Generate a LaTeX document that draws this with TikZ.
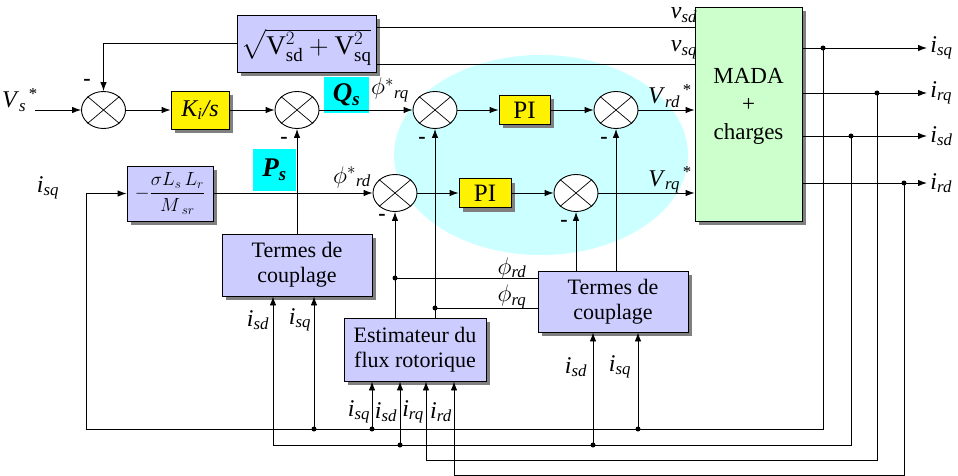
\RequirePackage{fix-cm}
\documentclass[tikz,border=0pt]{standalone}
\usepackage{amsmath}
\usepackage{fontspec}
\setmainfont{Liberation Serif}
\usetikzlibrary{shapes.geometric,arrows.meta,shadows}
\definecolor{boxblue}{RGB}{204,204,255}
\definecolor{zonecyan}{RGB}{204,255,255}
\definecolor{labcyan}{RGB}{0,255,255}
\definecolor{madagreen}{RGB}{204,255,204}
\newcommand{\vsub}[2]{\textit{#1}\textsubscript{\textit{#2}}}
\begin{document}
\begin{tikzpicture}[x=1pt,y=-1pt,line width=0.9pt,
  >={Latex[length=9pt,width=6.5pt]},
  every node/.style={font=\fontsize{22}{25}\selectfont, inner sep=0pt},
  lab/.style={font=\fontsize{24}{26}\selectfont},
  shad/.style={drop shadow={shadow xshift=4pt,shadow yshift=-4pt,fill=gray,opacity=1}},
  blk/.style={draw,fill=boxblue,shad,align=center},
  ybox/.style={draw,fill=yellow,shad,font=\fontsize{25}{26}\selectfont},
  sumj/.style={draw,fill=white,ellipse,minimum width=44pt,minimum height=37pt},
  tagc/.style={fill=labcyan,font=\fontsize{27}{28}\selectfont\bfseries\itshape},
  mns/.style={font=\fontsize{22}{24}\selectfont\bfseries},
  jdot/.style={circle,fill,minimum size=5pt},
  outlab/.style={lab,anchor=west,inner sep=3pt},
]
\path[use as bounding box] (0,0) rectangle (958,476);

% background zone
\node[ellipse,fill=zonecyan,minimum width=294pt,minimum height=200pt] (zone) at (541,155) {};

% cyan tags
\node[tagc,minimum width=45pt,minimum height=36pt] (qs) at (346.5,95) {Q\textsubscript{s}};
\node[tagc,minimum width=43pt,minimum height=42pt] (ps) at (274.5,170) {P\textsubscript{s}};

% blocks
\node[blk,minimum width=139pt,minimum height=57pt] (sq) at (306.5,43.5) {};
\node[font=\fontsize{27}{29}\selectfont] (sqtxt) at (306.5,44) {$\sqrt{\smash[b]{\text{V}^{2}_{\text{sd}}+\text{V}^{2}_{\text{sq}}}\vphantom{\text{V}_{\text{s}}}}$};
\node[draw,fill=madagreen,shad,minimum width=107pt,minimum height=214pt] (mada) at (748.5,114) {};
\node[align=center,font=\fontsize{23}{28}\selectfont] (madatxt) at (748.5,106) {MADA\\+\\charges};
\node[ybox,minimum width=58pt,minimum height=38pt,font=\fontsize{24}{24}\selectfont] (ki) at (200,110) {\textit{K\textsubscript{i}/s}};
\node[ybox,minimum width=51pt,minimum height=29pt] (pi1) at (524.5,110) {PI};
\node[ybox,minimum width=52pt,minimum height=29pt] (pi2) at (485,193) {PI};
\node[blk,minimum width=86pt,minimum height=55pt,font=\fontsize{19}{20}\selectfont] (gain) at (170,193.5) {$-\dfrac{\sigma L_{s}\,L_{r}}{M_{\;sr}}$};
\node[blk,minimum width=150pt,minimum height=62pt] (tdc1) at (297,265) {Termes de\\couplage};
\node[blk,minimum width=142pt,minimum height=63pt] (est) at (415,349.5) {Estimateur du\\flux rotorique};
\node[blk,minimum width=150pt,minimum height=61pt] (tdc2) at (613,301.5) {Termes de\\couplage};

% summing junctions
\node[sumj] (s1) at (103.5,110) {};
\node[sumj] (s2) at (297,110) {};
\node[sumj] (s3) at (435,110) {};
\node[sumj] (s4) at (616,110) {};
\node[sumj] (s5) at (395,193) {};
\node[sumj] (s6) at (576,193) {};
\foreach \s in {s1,s2,s3,s4,s5,s6}
  \draw[line width=0.7pt] (\s.north west) -- (\s.south east) (\s.north east) -- (\s.south west);

% minus signs
\node[mns] (m1) at (87,82) {-};
\node[mns] (m2) at (284,140) {-};
\node[mns] (m3) at (422,140) {-};
\node[mns] (m4) at (604,140) {-};
\node[mns] (m5) at (382,217) {-};
\node[mns] (m6) at (564,223) {-};

% labels
\node[lab] (vs) at (20,100) {\textit{V}\textsubscript{\textit{s}}\textsuperscript{\,*}};
\node[lab] (isqin) at (48,188) {\vsub{i}{sq}};
\node[lab] (vsd) at (684,15) {\vsub{v}{sd}};
\node[lab] (vsq) at (684,50) {\vsub{v}{sq}};
\node[lab] (vrd) at (670,96) {\vsub{V}{rd}\textsuperscript{\,*}};
\node[lab] (vrq) at (670,180) {\vsub{V}{rq}\textsuperscript{\,*}};
\node[lab] (phrq) at (390,90) {$\phi^{*}{}_{\textit{rq}}$};
\node[lab] (phrd) at (352,177) {$\phi^{*}{}_{\textit{rd}}$};
\node[lab] (phird) at (512,268) {$\phi_{\textit{rd}}$};
\node[lab] (phirq) at (512,297) {$\phi_{\textit{rq}}$};
\node[lab] (l1) at (258,320) {\vsub{i}{sd}};
\node[lab] (l2) at (300,320) {\vsub{i}{sq}};
\node[lab] (l3) at (359,412) {\vsub{i}{sq}};
\node[lab] (l4) at (386,412) {\vsub{i}{sd}};
\node[lab] (l5) at (413,412) {\vsub{i}{rq}};
\node[lab] (l6) at (441,412) {\vsub{i}{rd}};
\node[lab] (l7) at (576,367) {\vsub{i}{sd}};
\node[lab] (l8) at (620,367) {\vsub{i}{sq}};
\node[outlab] (oisq) at (927,48) {\vsub{i}{sq}};
\node[outlab] (oirq) at (927,93) {\vsub{i}{rq}};
\node[outlab] (oisd) at (927,136) {\vsub{i}{sd}};
\node[outlab] (oird) at (927,183) {\vsub{i}{rd}};

% helper coordinates
\coordinate (vsin) at (35,110);
\coordinate (vsdy) at (0,27);
\coordinate (vsqy) at (0,64);
\coordinate (yrd) at (0,278);
\coordinate (yrq) at (0,308);
\coordinate (b1) at (0,429);
\coordinate (b2) at (0,445);
\coordinate (b3) at (0,460);
\coordinate (b4) at (0,475);
\coordinate (c1) at (86,429);
\coordinate (t1) at (823,48);
\coordinate (t2) at (877,93);
\coordinate (t3) at (851,136);
\coordinate (t4) at (904,183);

% top voltage lines
\draw (sq.east |- vsdy) -- (mada.west |- vsdy);
\draw (sq.east |- vsqy) -- (mada.west |- vsqy);
\draw[->] (sq.west) -| (s1.north);

% row 1
\draw[->] (vsin) -- (s1.west);
\draw[->] (s1.east) -- (ki.west);
\draw[->] (ki.east) -- (s2.west);
\draw[->] (s2.east) -- (s3.west);
\draw[->] (s3.east) -- (pi1.west);
\draw[->] (pi1.east) -- (s4.west);
\draw[->] (s4.east) -- (mada.west |- s4.east);

% row 2
\draw[->] (gain.east |- s5.west) -- (s5.west);
\draw[->] (s5.east) -- (pi2.west);
\draw[->] (pi2.east) -- (s6.west);
\draw[->] (s6.east) -- (mada.west |- s6.east);

% vertical feedbacks
\draw[->] (tdc1.north) -- (s2.south);
\draw[->] (s5.south |- est.north) -- (s5.south);
\draw[->] (s3.south |- est.north) -- (s3.south);
\draw[->] (s6.south |- tdc2.north) -- (s6.south);
\draw[->] (s4.south |- tdc2.north) -- (s4.south);
\draw (s5.south |- yrd) -- (tdc2.west |- yrd);
\draw (s3.south |- yrq) -- (tdc2.west |- yrq);
\node[jdot] at (s5.south |- yrd) {};
\node[jdot] at (s3.south |- yrq) {};

% outputs
\draw[->] (mada.east |- t1) -- (oisq.west);
\draw[->] (mada.east |- t2) -- (oirq.west);
\draw[->] (mada.east |- t3) -- (oisd.west);
\draw[->] (mada.east |- t4) -- (oird.west);
\foreach \t in {t1,t2,t3,t4} \node[jdot] at (\t) {};

% buses
\draw[->] (t1) -- (t1 |- b1) -- (c1) |- (gain.west);
\draw[->] (t3) -- (t3 |- b2) -| ([xshift=-24pt]tdc1.south);
\draw[->] (t2) -- (t2 |- b3) -| ([xshift=11pt]est.south);
\draw[->] (t4) -- (t4 |- b4) -| ([xshift=39pt]est.south);

% taps
\draw[->] ([xshift=17pt]tdc1.south |- b1) -- ([xshift=17pt]tdc1.south);
\draw[->] ([xshift=-43pt]est.south |- b1) -- ([xshift=-43pt]est.south);
\draw[->] ([xshift=-15pt]est.south |- b2) -- ([xshift=-15pt]est.south);
\draw[->] ([xshift=-20pt]tdc2.south |- b2) -- ([xshift=-20pt]tdc2.south);
\draw[->] ([xshift=25pt]tdc2.south |- b1) -- ([xshift=25pt]tdc2.south);
\node[jdot] at ([xshift=17pt]tdc1.south |- b1) {};
\node[jdot] at ([xshift=-43pt]est.south |- b1) {};
\node[jdot] at ([xshift=-15pt]est.south |- b2) {};
\node[jdot] at ([xshift=-20pt]tdc2.south |- b2) {};
\node[jdot] at ([xshift=25pt]tdc2.south |- b1) {};
\end{tikzpicture}
\end{document}
